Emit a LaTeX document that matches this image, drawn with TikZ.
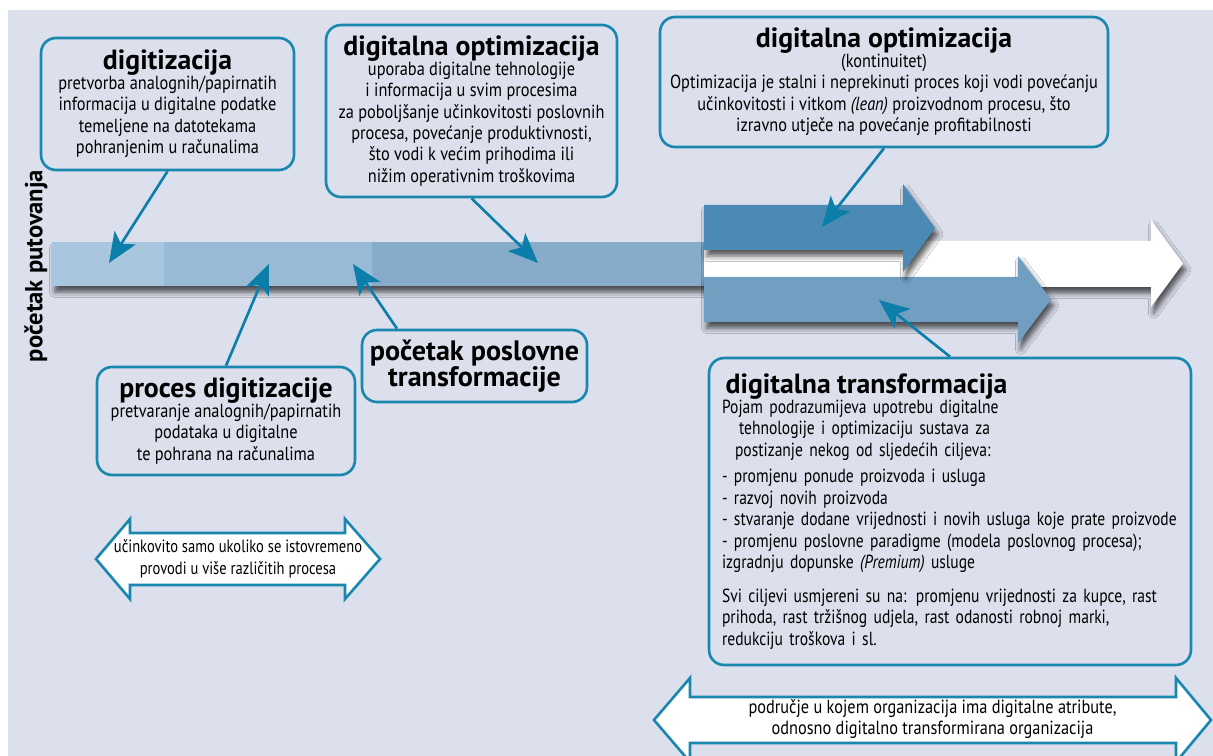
\documentclass[tikz,border=0pt]{standalone}
\usepackage{fontspec}
\setmainfont{PT Sans}
\newfontfamily\narrowfont{PT Sans}[FakeStretch=0.86]
\newfontfamily\slimfont{PT Sans}[FakeStretch=0.82]
\usetikzlibrary{arrows.meta, positioning, shadows.blur}

\definecolor{bgpage}{HTML}{DCDFEC}
\definecolor{frameblue}{HTML}{1A87AF}
\definecolor{pointblue}{HTML}{0B7EAA}
\definecolor{barA}{HTML}{A8C6DE}
\definecolor{barB}{HTML}{98BAD6}
\definecolor{barC}{HTML}{86ACCA}
\definecolor{arrowdark}{HTML}{4A8AB5}
\definecolor{arrowmid}{HTML}{709FC2}

\newcommand{\titlefont}{\normalfont\fontsize{15.8}{18}\selectfont\bfseries}
\newcommand{\bodyfont}{\narrowfont\fontsize{10.8}{12.2}\selectfont}
\newcommand{\transfont}{\slimfont\fontsize{10.8}{12.2}\selectfont}
\newcommand{\noteFont}{\slimfont\fontsize{10.1}{12.4}\selectfont}

\begin{document}
\begin{tikzpicture}[x=0.02cm, y=-0.02cm,
    box/.style={draw=frameblue, line width=1.5pt, rounded corners=0.3cm, align=center, font=\bodyfont, inner sep=0pt},
    pointer/.style={-{Stealth[length=0.6cm, width=0.5cm, inset=0.15cm]}, line width=1.5pt, pointblue},
    band/.style={blur shadow={shadow xshift=1.5pt, shadow yshift=-3.5pt, shadow blur radius=3pt, shadow opacity=65}},
    twoway/.style={draw=frameblue, line width=1.5pt, fill=white, line join=miter},
    spantext/.style={font=\bodyfont, align=center, inner sep=0pt}
]
\useasboundingbox (0,0) rectangle (1213,756);
\fill[white] (0,0) rectangle (1213,756);
\fill[bgpage] (8,10) rectangle (1213,756);

% timeline
\path[band, fill=barC] (52,242) rectangle (705,286);
\fill[barA] (52,242) rectangle (164,286);
\fill[barB] (164,242) rectangle (372,286);
\path[band, fill=white] (704,241) -- (1151,241) -- (1151,220) -- (1183,263.5) -- (1151,307) -- (1151,287) -- (704,287) -- cycle;
\path[band, fill=arrowmid] (704,277) -- (1018,277) -- (1018,256) -- (1051,299.5) -- (1018,343) -- (1018,322) -- (704,322) -- cycle;
\path[band, fill=arrowdark] (704,205) -- (903,205) -- (903,184) -- (935,228) -- (903,272) -- (903,250) -- (704,250) -- cycle;

\node[rotate=90, font=\fontsize{14}{16}\selectfont\bfseries] (journey) at (36,266) {početak putovanja};

\node[box, minimum width=5.06cm, minimum height=2.64cm] (digit) at (167.5,104)
    {{\titlefont digitizacija}\\[-1pt]
    pretvorba analognih/papirnatih\\
    informacija u digitalne podatke\\
    temeljene na datotekama\\
    pohranjenim u računalima};
\node[box, minimum width=5.82cm, minimum height=3.44cm] (optim) at (471.5,111)
    {{\titlefont digitalna optimizacija}\\[-1pt]
    uporaba digitalne tehnologije\\
    i informacija u svim procesima\\
    za poboljšanje učinkovitosti poslovnih\\
    procesa, povećanje produktivnosti,\\
    što vodi k većim prihodima ili\\
    nižim operativnim troškovima};
\node[box, minimum width=8.96cm, minimum height=2.6cm] (optimcont) at (884,82)
    {{\titlefont digitalna optimizacija}\\[-1pt]
    (kontinuitet)\\
    Optimizacija je stalni i neprekinuti proces koji vodi povećanju\\
    učinkovitosti i vitkom \textit{(lean)} proizvodnom procesu, što\\
    izravno utječe na povećanje profitabilnosti};
\node[box, minimum width=4.5cm, minimum height=1.44cm, font=\fontsize{16}{15}\selectfont\bfseries] (bizstart) at (474.5,366)
    {početak poslovne\\transformacije};
\node[box, minimum width=5.16cm, minimum height=2.16cm] (digproc) at (226,421)
    {{\titlefont proces digitizacije}\\[-1pt]
    pretvaranje analognih/papirnatih\\
    podataka u digitalne\\
    te pohrana na računalima};
\node[box, minimum width=9.64cm, minimum height=6.14cm, text width=9.12cm, align=left, font=\transfont] (digtrans) at (950,511.5)
    {\hspace*{2pt}{\titlefont digitalna transformacija}\\[-1pt]
    Pojam podrazumijeva upotrebu digitalne\\
    \hspace*{0.34cm}tehnologije i optimizaciju sustava za\\
    \hspace*{0.26cm}postizanje nekog od sljedećih ciljeva:\\[3pt]
    - promjenu ponude proizvoda i usluga\\
    - razvoj novih proizvoda\\
    - stvaranje dodane vrijednosti i novih usluga koje prate proizvode\\
    - promjenu poslovne paradigme (modela poslovnog procesa);\\
    izgradnju dopunske \textit{(Premium)} usluge\\[7pt]
    Svi ciljevi usmjereni su na: promjenu vrijednosti za kupce, rast\\
    prihoda, rast tržišnog udjela, rast odanosti robnoj marki,\\
    redukciju troškova i sl.};

\coordinate (tipdigit) at (109,263);
\coordinate (tipoptim) at (538,263);
\coordinate (tipcont) at (822,227);
\coordinate (tipproc) at (269,264);
\coordinate (tipbiz) at (353,264);
\coordinate (tiptrans) at (879,300);
\draw[pointer] (digit.south) -- (tipdigit);
\draw[pointer] (optim.south) -- (tipoptim);
\draw[pointer] (optimcont.south) -- (tipcont);
\draw[pointer] (digproc.north) -- (tipproc);
\draw[pointer] ([xshift=-1.55cm]bizstart.north) -- (tipbiz);
\draw[pointer] (digtrans.north) -- (tiptrans);

\path[twoway] (96,559) -- (130,519) -- (130,533) -- (345,533) -- (345,519) -- (380,559) -- (345,599) -- (345,585) -- (130,585) -- (130,599) -- cycle;
\node[spantext, font=\noteFont] (effect) at (238,559) {učinkovito samo ukoliko se istovremeno\\provodi u više različitih procesa};
\path[twoway] (654,720) -- (690,678) -- (690,697) -- (1176,697) -- (1176,678) -- (1211,720) -- (1176,762) -- (1176,743) -- (690,743) -- (690,762) -- cycle;
\node[spantext] (area) at (932.5,719) {područje u kojem organizacija ima digitalne atribute,\\odnosno digitalno transformirana organizacija};
\end{tikzpicture}
\end{document}
